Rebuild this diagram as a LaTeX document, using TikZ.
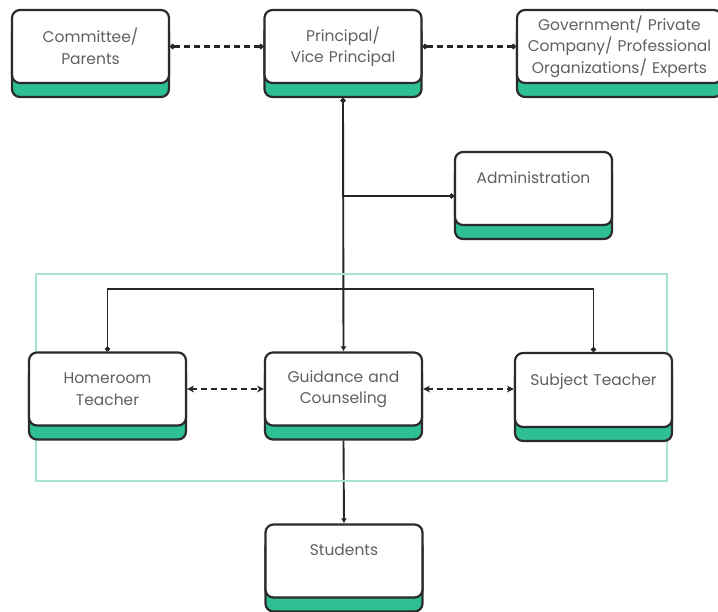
\documentclass[tikz,border=0pt]{standalone}
\usepackage{fontspec}
\setmainfont{Poppins}
\usetikzlibrary{shadows,arrows.meta,backgrounds}
\definecolor{band}{HTML}{2FBF95}
\definecolor{edge}{HTML}{2B2B2B}
\definecolor{txt}{HTML}{606060}
\definecolor{frame}{HTML}{A6E3D3}
\tikzset{
  card/.style={draw=edge, line width=2.2pt, rounded corners=8pt, fill=white,
    minimum height=73pt, minimum width=157pt, text width=154pt, align=center,
    font=\fontsize{15.5}{21.5}\selectfont, text=txt, inner sep=0pt,
    general shadow={shadow yshift=-14pt, fill=band, draw=edge, line width=2.2pt}},
  conn/.style={draw=black!85, line width=1.9pt},
  dashconn/.style={draw=black!85, line width=2.2pt, dash pattern=on 6pt off 4pt},
  mydot/.tip={Circle[length=5pt]},
  mytri/.tip={Latex[length=5pt,width=6pt]},
  mychev/.tip={Stealth[length=7pt,width=7pt]},
  groupframe/.style={draw=frame, line width=2pt, minimum width=631pt, minimum height=207pt, inner sep=0pt}
}
\begin{document}
\begin{tikzpicture}[x=1pt,y=-1pt]
\useasboundingbox (0,0) rectangle (718,611);
\node[groupframe] (group) at (351.5,377.5) {};
\node[card] (committee) at (90.5,46.5) {Committee/\\Parents};
\node[card] (principal) at (343,46.5) {Principal/\\Vice Principal};
\node[card, minimum width=205pt, text width=200pt] (gov) at (619.5,46.5) {Government/ Private\\Company/ Professional\\Organizations/ Experts};
\node[card] (admin) at (533.5,188.5) {Administration\\\mbox{}};
\node[card] (homeroom) at (107.5,389) {Homeroom\\Teacher};
\node[card] (guidance) at (343.5,389) {Guidance and\\Counseling};
\node[card, minimum height=74pt] (subject) at (593.5,390) {Subject Teacher\\\mbox{}};
\node[card] (students) at (344,561) {Students\\\mbox{}};
\begin{scope}[on background layer]
  \draw[conn, {mydot}-{mytri}] ([yshift=-14pt]principal.south) -- (guidance.north);
  \coordinate (j) at (principal.south |- 0,196);
  \draw[conn, -{mydot}] (j) -- (j -| admin.west);
  \draw[conn, {mydot}-{mydot}] (homeroom.north) -- ++(0,-62) -| (subject.north);
  \draw[conn, -{mytri}] ([yshift=-14pt]guidance.south) -- (students.north);
  \draw[dashconn, {mydot}-{mydot}] (committee.east) -- (principal.west);
  \draw[dashconn, {mydot}-{mydot}] (principal.east) -- (gov.west);
  \draw[dashconn, {mychev}-{mychev}] (homeroom.east) -- (guidance.west);
  \draw[dashconn, {mychev}-{mychev}] (guidance.east) -- (subject.west |- guidance.east);
\end{scope}
\end{tikzpicture}
\end{document}
